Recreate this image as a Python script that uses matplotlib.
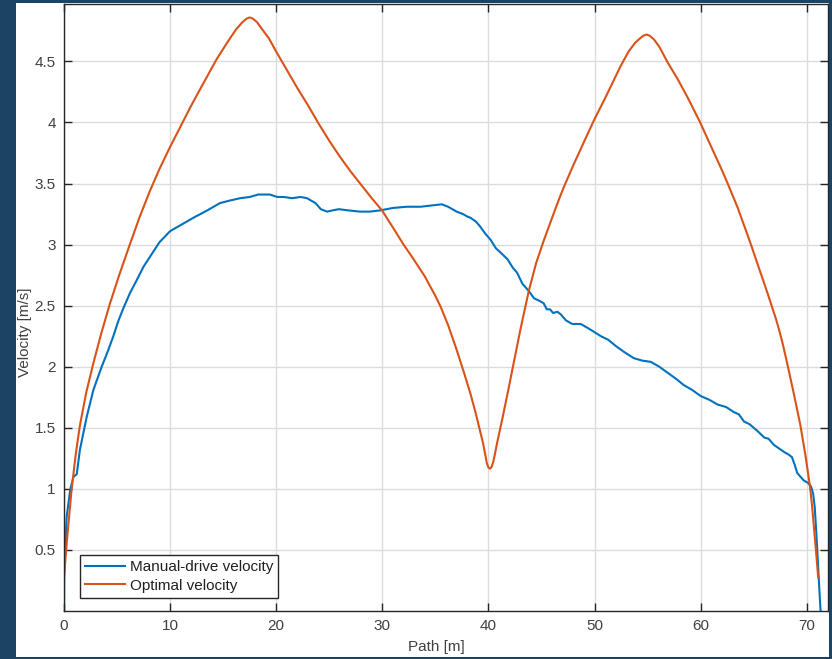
import matplotlib
matplotlib.use("Agg")
import matplotlib.pyplot as plt
from matplotlib.patches import Rectangle

plt.rcParams['font.family'] = ['Liberation Sans', 'DejaVu Sans']

# Path position [m] and velocity [m/s] for the manually driven run
manual_path = [0.0, 0.02, 0.25, 0.6, 0.9, 1.2, 1.5, 2.14, 2.77, 3.55, 4.1, 4.65, 5.1, 5.6,
               6.2, 6.86, 7.5, 8.1, 9.0, 10.0, 11.0, 12.2, 13.5, 14.7, 15.6, 16.6, 17.5,
               18.3, 19.4, 20.1, 20.7, 21.5, 22.3, 22.9, 23.3, 23.7, 24.2, 24.8, 25.3,
               25.9, 26.8, 27.9, 28.8, 29.8, 31.0, 32.3, 33.0, 33.6, 34.6, 35.6, 36.2,
               37.0, 37.6, 38.0, 38.3, 38.8, 39.2, 39.7, 40.2, 40.7, 41.2, 41.8, 42.3,
               42.7, 43.2, 43.8, 44.3, 44.8, 45.2, 45.5, 45.8, 46.1, 46.5, 46.8, 47.3,
               47.9, 48.7, 49.5, 50.6, 51.3, 52.0, 52.8, 53.7, 54.5, 55.3, 56.1, 56.9,
               57.7, 58.4, 59.2, 60.0, 60.8, 61.6, 62.4, 63.1, 63.6, 64.1, 64.6, 65.0,
               65.4, 66.0, 66.4, 66.9, 67.4, 67.9, 68.3, 68.6, 68.85, 69.1, 69.7, 70.1,
               70.4, 70.6, 70.75, 70.9, 71.05, 71.15, 71.3]
manual_velocity = [0.0, 0.30, 0.77, 1.00, 1.10, 1.12, 1.32, 1.59, 1.81, 2.00, 2.12, 2.25,
                   2.37, 2.48, 2.60, 2.71, 2.82, 2.90, 3.02, 3.11, 3.16, 3.22, 3.28, 3.34,
                   3.36, 3.38, 3.39, 3.41, 3.41, 3.39, 3.39, 3.38, 3.39, 3.38, 3.36, 3.34,
                   3.29, 3.27, 3.28, 3.29, 3.28, 3.27, 3.27, 3.28, 3.30, 3.31, 3.31, 3.31,
                   3.32, 3.33, 3.31, 3.27, 3.25, 3.23, 3.22, 3.19, 3.15, 3.09, 3.04, 2.97,
                   2.93, 2.88, 2.81, 2.77, 2.68, 2.62, 2.56, 2.54, 2.52, 2.47, 2.47, 2.44,
                   2.45, 2.43, 2.38, 2.35, 2.35, 2.31, 2.25, 2.22, 2.17, 2.12, 2.07, 2.05,
                   2.04, 2.00, 1.95, 1.90, 1.85, 1.81, 1.76, 1.73, 1.69, 1.67, 1.63, 1.61,
                   1.55, 1.53, 1.50, 1.47, 1.42, 1.41, 1.36, 1.33, 1.30, 1.28, 1.26, 1.20,
                   1.13, 1.07, 1.05, 1.02, 0.96, 0.85, 0.64, 0.40, 0.23, 0.0]

# Path position [m] and velocity [m/s] of the optimal profile
optimal_path = [0.0, 0.3, 0.7, 1.1, 1.5, 2.1, 2.77, 3.5, 4.34, 5.2, 6.2, 7.1, 8.1, 9.0,
                10.0, 11.0, 12.0, 13.0, 14.4, 15.5, 16.2, 16.8, 17.2, 17.5, 17.8, 18.2,
                18.7, 19.3, 20.0, 21.0, 22.0, 23.0, 24.0, 25.0, 26.0, 27.0, 28.0, 29.0,
                29.97, 31.0, 32.0, 32.95, 34.0, 35.0, 35.5, 36.2, 37.0, 37.7, 38.3, 38.8,
                39.25, 39.5, 39.7, 39.85, 40.0, 40.15, 40.3, 40.45, 40.6, 40.8, 41.3, 41.8,
                42.4, 43.0, 43.8, 44.5, 45.2, 46.0, 46.6, 47.1, 48.0, 49.0, 49.9, 51.0,
                52.0, 52.45, 53.2, 53.8, 54.3, 54.6, 54.9, 55.2, 55.6, 56.1, 56.9, 57.8,
                58.8, 59.9, 61.0, 62.0, 62.5, 63.5, 64.7, 65.6, 66.0, 66.5, 66.8, 67.1,
                67.4, 67.7, 68.2, 68.8, 69.4, 69.9, 70.3, 70.5, 70.7, 70.9, 71.07]
optimal_velocity = [0.28, 0.60, 0.98, 1.28, 1.52, 1.79, 2.03, 2.27, 2.52, 2.75, 3.00, 3.22,
                    3.44, 3.62, 3.80, 3.97, 4.14, 4.30, 4.52, 4.67, 4.76, 4.82, 4.85, 4.86,
                    4.85, 4.82, 4.76, 4.69, 4.58, 4.43, 4.28, 4.14, 3.99, 3.85, 3.72, 3.60,
                    3.49, 3.38, 3.28, 3.14, 3.00, 2.88, 2.74, 2.58, 2.49, 2.34, 2.14, 1.95,
                    1.78, 1.62, 1.46, 1.37, 1.28, 1.21, 1.175, 1.165, 1.18, 1.22, 1.28, 1.37,
                    1.57, 1.78, 2.04, 2.30, 2.62, 2.85, 3.03, 3.22, 3.36, 3.47, 3.65, 3.84,
                    4.01, 4.20, 4.38, 4.46, 4.58, 4.65, 4.69, 4.71, 4.72, 4.71, 4.68, 4.62,
                    4.49, 4.36, 4.20, 4.01, 3.80, 3.61, 3.51, 3.30, 3.01, 2.78, 2.68, 2.55,
                    2.47, 2.39, 2.30, 2.20, 2.01, 1.77, 1.52, 1.26, 1.02, 0.86, 0.66, 0.46,
                    0.28]

x_ticks = [0, 10, 20, 30, 40, 50, 60, 70]
y_ticks = [0.5, 1, 1.5, 2, 2.5, 3, 3.5, 4, 4.5]
y_tick_labels = ["0.5", "1", "1.5", "2", "2.5", "3", "3.5", "4", "4.5"]

W, H = 832, 659
fig = plt.figure(figsize=(W / 100, H / 100), dpi=100)
fig.patch.set_facecolor("white")

# dark window frame around the figure
frame_color = "#1b4363"
for (x0, y0, w, h) in [(0, 0, 16, H), (0, H - 3, W, 3), (W - 3, 0, 3, H), (0, 0, W, 2)]:
    fig.add_artist(Rectangle((x0 / W, y0 / H), w / W, h / H, transform=fig.transFigure,
                             facecolor=frame_color, edgecolor="none", zorder=10))

ax_l, ax_r, ax_t, ax_b = 64, 828, 4, 611
ax = fig.add_axes([ax_l / W, (H - ax_b) / H, (ax_r - ax_l) / W, (ax_b - ax_t) / H])

ax.plot(manual_path, manual_velocity, color="#0072BD", lw=1.5, label="Manual-drive velocity")
ax.plot(optimal_path, optimal_velocity, color="#D95319", lw=1.5, label="Optimal velocity")

ax.set_xlim(0, 72)
ax.set_ylim(0, 4.97)
ax.set_xticks(x_ticks)
ax.set_yticks(y_ticks)
ax.set_yticklabels(y_tick_labels)

text_color = "#404040"
ax.grid(True, color="#dcdcdc", lw=1)
ax.set_axisbelow(True)
ax.tick_params(direction="in", length=6, width=1, color="#262626", labelcolor=text_color,
               labelsize=11, top=True, right=True, pad=6)
for s in ax.spines.values():
    s.set_color("#262626")
    s.set_linewidth(1)

ax.set_xlabel("Path [m]", fontsize=11, color=text_color)
ax.set_ylabel("Velocity [m/s]", fontsize=11, color=text_color)
ax.xaxis.set_label_coords(0.487, -0.048)
ax.yaxis.set_label_coords(-0.042, 0.46)

leg = ax.legend(loc="lower left", bbox_to_anchor=(16 / 764, 13 / 607), borderaxespad=0,
                fancybox=False, framealpha=1, edgecolor="#262626", fontsize=11,
                handlelength=2.6, handletextpad=0.3, borderpad=0.35, labelspacing=0.3)
leg.get_frame().set_linewidth(1)
for t in leg.get_texts():
    t.set_color("#202020")

fig.savefig("out.png", dpi=100)
